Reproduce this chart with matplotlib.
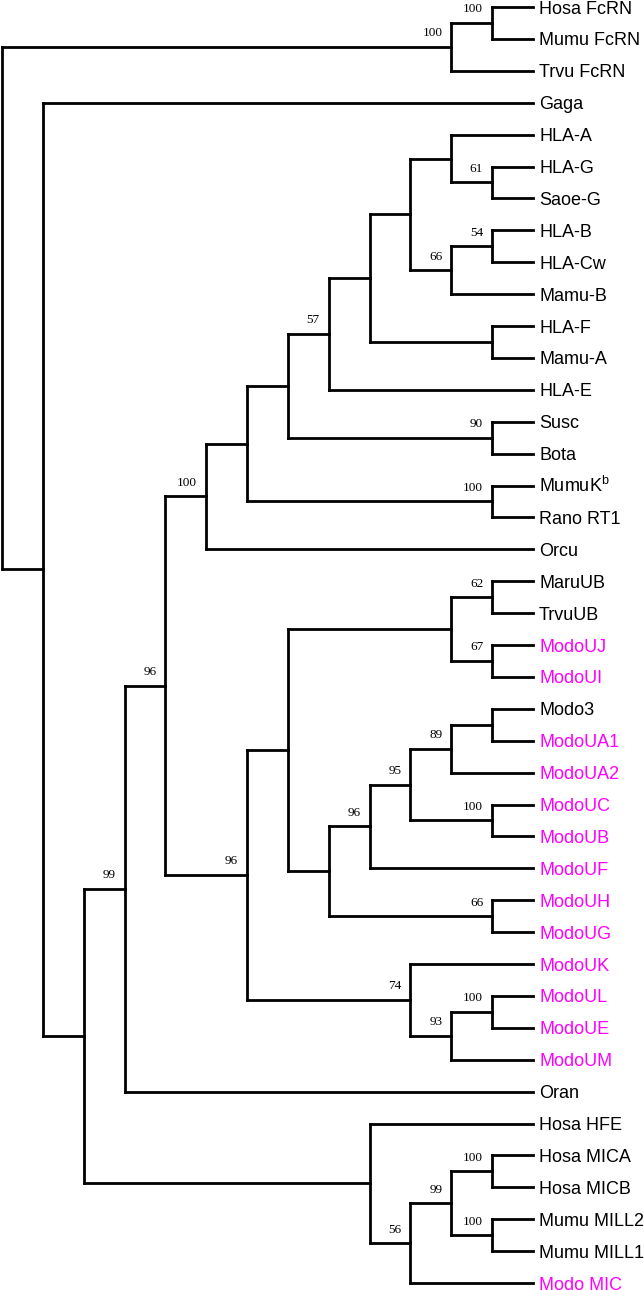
import matplotlib
matplotlib.use('Agg')
import matplotlib.pyplot as plt

# leaf taxa, top to bottom
leaves = ['Hosa FcRN', 'Mumu FcRN', 'Trvu FcRN', 'Gaga',
          'HLA-A', 'HLA-G', 'Saoe-G', 'HLA-B', 'HLA-Cw', 'Mamu-B',
          'HLA-F', 'Mamu-A', 'HLA-E', 'Susc', 'Bota',
          'MumuK$^\\mathregular{b}$', 'Rano RT1', 'Orcu',
          'MaruUB', 'TrvuUB', 'ModoUJ', 'ModoUI', 'Modo3', 'ModoUA1',
          'ModoUA2', 'ModoUC', 'ModoUB', 'ModoUF', 'ModoUH', 'ModoUG',
          'ModoUK', 'ModoUL', 'ModoUE', 'ModoUM', 'Oran',
          'Hosa HFE', 'Hosa MICA', 'Hosa MICB', 'Mumu MILL2', 'Mumu MILL1',
          'Modo MIC']
magenta_leaves = ['ModoUJ', 'ModoUI', 'ModoUA1', 'ModoUA2', 'ModoUC', 'ModoUB',
                  'ModoUF', 'ModoUH', 'ModoUG', 'ModoUK', 'ModoUL', 'ModoUE',
                  'ModoUM', 'Modo MIC']
leaf_level = 13

# internal nodes: name, level (column), children, bootstrap support
nodes = [
    ('fc2', 12, ['Hosa FcRN', 'Mumu FcRN'], '100'),
    ('fc', 11, ['fc2', 'Trvu FcRN'], '100'),
    ('g61', 12, ['HLA-G', 'Saoe-G'], '61'),
    ('a', 11, ['HLA-A', 'g61'], ''),
    ('b54', 12, ['HLA-B', 'HLA-Cw'], '54'),
    ('b66', 11, ['b54', 'Mamu-B'], '66'),
    ('abc', 10, ['a', 'b66'], ''),
    ('f', 12, ['HLA-F', 'Mamu-A'], ''),
    ('abcf', 9, ['abc', 'f'], ''),
    ('n57', 8, ['abcf', 'HLA-E'], '57'),
    ('s90', 12, ['Susc', 'Bota'], '90'),
    ('n7', 7, ['n57', 's90'], ''),
    ('k100', 12, ['MumuK$^\\mathregular{b}$', 'Rano RT1'], '100'),
    ('n6', 6, ['n7', 'k100'], ''),
    ('n100', 5, ['n6', 'Orcu'], '100'),
    ('u62', 12, ['MaruUB', 'TrvuUB'], '62'),
    ('u67', 12, ['ModoUJ', 'ModoUI'], '67'),
    ('uub', 11, ['u62', 'u67'], ''),
    ('ua', 12, ['Modo3', 'ModoUA1'], ''),
    ('u89', 11, ['ua', 'ModoUA2'], '89'),
    ('uc100', 12, ['ModoUC', 'ModoUB'], '100'),
    ('u95', 10, ['u89', 'uc100'], '95'),
    ('u96', 9, ['u95', 'ModoUF'], '96'),
    ('h66', 12, ['ModoUH', 'ModoUG'], '66'),
    ('u8', 8, ['u96', 'h66'], ''),
    ('u7', 7, ['uub', 'u8'], ''),
    ('l100', 12, ['ModoUL', 'ModoUE'], '100'),
    ('u93', 11, ['l100', 'ModoUM'], '93'),
    ('u74', 10, ['ModoUK', 'u93'], '74'),
    ('mod96', 6, ['u7', 'u74'], '96'),
    ('n96', 4, ['n100', 'mod96'], '96'),
    ('n99', 3, ['n96', 'Oran'], '99'),
    ('mica', 12, ['Hosa MICA', 'Hosa MICB'], '100'),
    ('mill', 12, ['Mumu MILL2', 'Mumu MILL1'], '100'),
    ('m99', 11, ['mica', 'mill'], '99'),
    ('m56', 10, ['m99', 'Modo MIC'], '56'),
    ('mic', 9, ['Hosa HFE', 'm56'], ''),
    ('nb', 2, ['n99', 'mic'], ''),
    ('na', 1, ['Gaga', 'nb'], ''),
    ('root', 0, ['fc', 'na'], ''),
]

pos = {name: (leaf_level, i) for i, name in enumerate(leaves)}
for name, level, children, sup in nodes:
    ys = [pos[c][1] for c in children]
    pos[name] = (level, (min(ys) + max(ys)) / 2.0)

fig = plt.figure(figsize=(6.44, 12.9), dpi=100)
ax = fig.add_axes([0, 0, 1, 1])
lw = 2.0

for name, level, children, sup in nodes:
    ys = [pos[c][1] for c in children]
    ax.plot([level, level], [min(ys), max(ys)], color='black', lw=lw,
            solid_capstyle='projecting')
    for c in children:
        cx, cy = pos[c]
        ax.plot([level, cx], [cy, cy], color='black', lw=lw,
                solid_capstyle='projecting')
    if sup:
        x, y = pos[name]
        ax.annotate(sup, (x, y), xytext=(-6.5, 7.6), textcoords='offset points',
                    ha='right', va='baseline', fontsize=9.5,
                    family='Liberation Serif')

for name in leaves:
    x, y = pos[name]
    col = '#ff00ff' if name in magenta_leaves else 'black'
    ax.annotate(name, (x, y), xytext=(4.3, -4.7), textcoords='offset points',
                ha='left', va='baseline', fontsize=13, color=col,
                family='Liberation Sans')

# map levels/rows onto the pixel frame of the original
dx = 40.85
dy = 31.9
ax.set_xlim(-2 / dx, (644 - 2) / dx)
ax.set_ylim((1290 - 7) / dy, -7 / dy)
ax.axis('off')

fig.savefig('out.png', dpi=100)
